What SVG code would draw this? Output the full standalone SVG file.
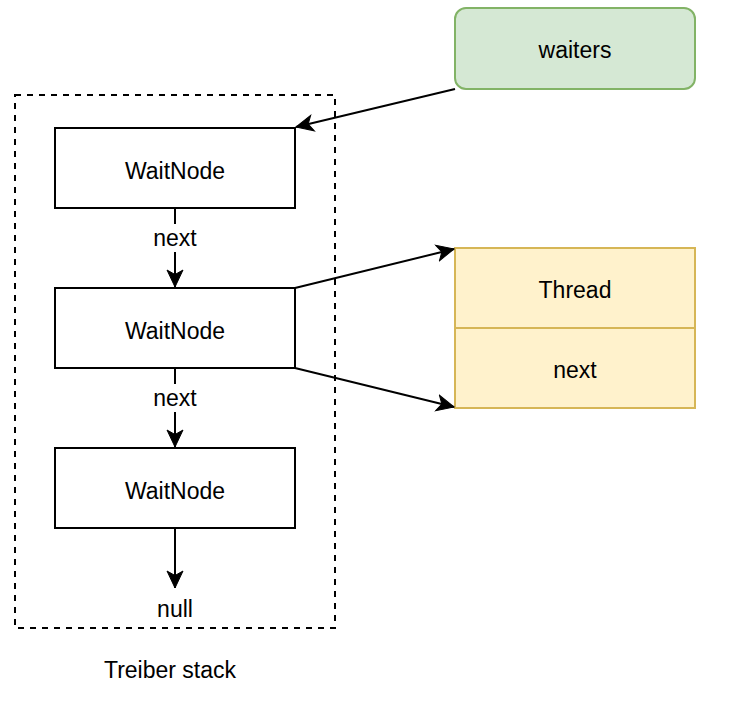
<svg xmlns="http://www.w3.org/2000/svg" width="756" height="726" viewBox="0 0 756 726">
<style>
text{font-family:"Liberation Sans",Arial,Helvetica,sans-serif;font-size:23px;fill:#000;text-anchor:middle}
.node{fill:#fff;stroke:#000;stroke-width:2}
.edge{fill:none;stroke:#000;stroke-width:2}
</style>
<defs>
<marker id="arr" markerUnits="userSpaceOnUse" markerWidth="20" markerHeight="20" viewBox="-18 -10 20 20" refX="0" refY="0" orient="auto">
<path d="M0,0 L-17,-8 L-12.5,0 L-17,8 Z" fill="#000" stroke="#000" stroke-width="1"/>
</marker>
</defs>
<rect width="756" height="726" fill="#fff"/>
<g id="treiber-stack">
<rect x="15" y="95" width="320" height="533" fill="none" stroke="#000" stroke-width="2" stroke-dasharray="6 6"/>
<text x="170" y="678">Treiber stack</text>
</g>
<g id="waiters">
<rect x="455" y="8" width="240" height="81" rx="11" fill="#d5e8d4" stroke="#82b366" stroke-width="2"/>
<text x="575" y="58">waiters</text>
</g>
<g id="waitnode1">
<rect class="node" x="55" y="128" width="240" height="80"/>
<text x="175" y="179">WaitNode</text>
</g>
<g id="waitnode2">
<rect class="node" x="55" y="288" width="240" height="80"/>
<text x="175" y="339">WaitNode</text>
</g>
<g id="waitnode3">
<rect class="node" x="55" y="448" width="240" height="80"/>
<text x="175" y="499">WaitNode</text>
</g>
<g id="waitnode-detail">
<rect x="455" y="248" width="240" height="80" fill="#fff2cc" stroke="#d6b656" stroke-width="2"/>
<text x="575" y="298">Thread</text>
<rect x="455" y="328" width="240" height="80" fill="#fff2cc" stroke="#d6b656" stroke-width="2"/>
<text x="575" y="378">next</text>
</g>
<g id="null-label">
<text x="175" y="617">null</text>
</g>
<g id="connectors">
<line class="edge" x1="455" y1="89" x2="296" y2="127" marker-end="url(#arr)"/>
<line class="edge" x1="175" y1="208" x2="175" y2="287" marker-end="url(#arr)"/>
<rect x="150" y="224" width="50" height="28" fill="#fff"/>
<text x="175" y="246">next</text>
<line class="edge" x1="175" y1="368" x2="175" y2="447" marker-end="url(#arr)"/>
<rect x="150" y="384" width="50" height="28" fill="#fff"/>
<text x="175" y="406">next</text>
<line class="edge" x1="175" y1="528" x2="175" y2="588" marker-end="url(#arr)"/>
<line class="edge" x1="295" y1="288" x2="454" y2="249" marker-end="url(#arr)"/>
<line class="edge" x1="295" y1="368" x2="454" y2="407" marker-end="url(#arr)"/>
</g>
</svg>
